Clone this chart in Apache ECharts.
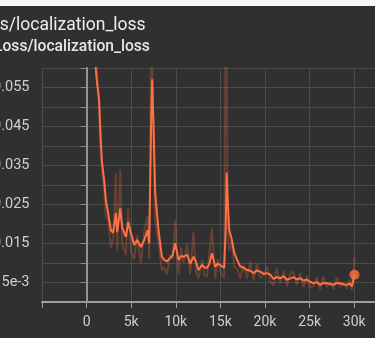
<!DOCTYPE html>
<html><head><meta charset="utf-8">
<script src="https://cdn.jsdelivr.net/npm/echarts@6/dist/echarts.min.js"></script>
<style>html,body{margin:0;padding:0;background:#303030;}#c{width:375px;height:338px;}</style>
</head><body><div id="c"></div>
<script>
var titleText = 'Loss/localization_loss';
var subtitleText = 'Loss/localization_loss';
var steps = [740,1150,1410,1520,1710,1970,2160,2420,2720,2980,3280,3430,3770,3990,4400,4660,4970,5340,5670,6090,6460,6830,7020,7240,7350,7520,7690,8060,8440,8700,9000,9370,9650,9930,10300,10600,10860,11280,11610,11980,12250,12540,12960,13200,13490,13750,14050,14420,14700,14980,15420,15590,15700,15820,15990,16290,16550,16880,17220,17600,17970,18350,18710,19100,19460,19850,20210,20600,20950,21300,21700,22100,22450,22800,23190,23550,23950,24300,24700,25050,25440,25800,26190,26550,26940,27300,27680,28050,28430,28800,29180,29500,29740,30030];
var smoothed = [0.0669,0.0567,0.0516,0.0448,0.0362,0.0312,0.0261,0.0228,0.0184,0.0177,0.0228,0.0179,0.0240,0.0192,0.0167,0.0205,0.0177,0.0146,0.0159,0.0141,0.0159,0.0184,0.0151,0.0465,0.0571,0.0439,0.0279,0.0184,0.0116,0.0108,0.0104,0.0113,0.0120,0.0151,0.0108,0.0118,0.0116,0.0121,0.0098,0.0116,0.0104,0.0082,0.0095,0.0089,0.0087,0.0097,0.0125,0.0091,0.0098,0.0095,0.0087,0.0184,0.0332,0.0261,0.0184,0.0159,0.0126,0.0108,0.0091,0.0088,0.0082,0.0080,0.0074,0.0081,0.0078,0.0072,0.0074,0.0070,0.0059,0.0064,0.0061,0.0066,0.0057,0.0060,0.0064,0.0058,0.0061,0.0055,0.0057,0.0052,0.0048,0.0051,0.0044,0.0049,0.0048,0.0046,0.0044,0.0049,0.0048,0.0045,0.0044,0.0047,0.0040,0.0070];
var raw = [0.075,0.060,0.050,0.040,0.034,0.029,0.022,0.021,0.014,0.016,0.033,0.013,0.034,0.015,0.012,0.024,0.013,0.011,0.017,0.010,0.018,0.022,0.011,0.070,0.068,0.036,0.021,0.015,0.008,0.009,0.007,0.012,0.011,0.021,0.007,0.014,0.010,0.015,0.007,0.018,0.008,0.006,0.011,0.007,0.0065,0.012,0.019,0.006,0.011,0.008,0.006,0.075,0.070,0.018,0.013,0.016,0.009,0.0085,0.006,0.0095,0.006,0.0105,0.0055,0.0098,0.0062,0.0068,0.0092,0.0052,0.0042,0.0088,0.0048,0.0079,0.0040,0.0072,0.0078,0.0043,0.0074,0.0038,0.0068,0.0036,0.0040,0.0063,0.0032,0.0066,0.0038,0.0052,0.0033,0.0064,0.0039,0.0050,0.0034,0.0058,0.0030,0.0114];
var yLabels = {'0.055':'0.055','0.045':'0.045','0.035':'0.035','0.025':'0.025','0.015':'0.015','0.005':'5e-3'};

// measure text to place the clipped header text like the cropped screenshot
var mc = document.createElement('canvas').getContext('2d');
function w(font, t){ mc.font = font; return mc.measureText(t).width; }
var tBase = w('17.5px Roboto', 's/localization_loss');
var tSize = 17.5 * 146 / tBase;
var tFont = tSize.toFixed(2) + 'px Roboto';
var tX = -w(tFont, 'Los') - 0.3;
var sBase = w('500 16px Roboto', 'oss/localization_loss');
var sSize = 16 * 147.4 / sBase;
var sFont = '500 ' + sSize.toFixed(2) + 'px Roboto';
var sX = 2.5 - w(sFont, 'L');

var chart = echarts.init(document.getElementById('c'), null, {renderer:'canvas'});
var smoothData = steps.map(function(s,i){return [s, smoothed[i]];});
var rawData = steps.map(function(s,i){return [s, raw[i]];});
var last = smoothData[smoothData.length-1];
chart.setOption({
  backgroundColor:'#303030',
  animation:false,
  graphic:[
    {type:'rect', shape:{x:0,y:0,width:375,height:6}, style:{fill:'#f7f7f7'}, z:100},
    {type:'text', x:tX, y:17, style:{text:titleText, fill:'#eeeeee', font:tFont, verticalAlign:'top', align:'left'}},
    {type:'text', x:sX, y:39, style:{text:subtitleText, fill:'#e6e6e6', font:sFont, verticalAlign:'top', align:'left'}}
  ],
  grid:{left:42, right:0, top:68, bottom:36, containLabel:false, outerBoundsMode:'none'},
  xAxis:{type:'value', min:-5000, max:32332, interval:5000,
    axisLine:{show:true, onZero:false, lineStyle:{color:'#9e9e9e', width:2}},
    axisTick:{show:true, length:6, lineStyle:{color:'#9e9e9e'}},
    axisLabel:{color:'#cfcfcf', fontSize:14, fontFamily:'Roboto', margin:13, showMaxLabel:false, hideOverlap:false,
      formatter:function(v){ if(v<0) return ''; if(v===0) return '0'; return (v/1000)+'k'; }},
    splitLine:{show:true, lineStyle:{color:'#4b4b4b', width:1}}
  },
  yAxis:{type:'value', min:0, max:0.06, interval:0.005,
    axisLine:{show:true, lineStyle:{color:'#9e9e9e', width:2}},
    axisTick:{show:true, length:6, lineStyle:{color:'#8a8a8a'}},
    axisLabel:{color:'#cfcfcf', fontSize:14.5, fontFamily:'Roboto', margin:12.5, hideOverlap:false,
      formatter:function(v){ var k=v.toFixed(3); return yLabels[k]||''; }},
    splitLine:{show:true, lineStyle:{color:'#4b4b4b', width:1}}
  },
  series:[
    {type:'line', data:rawData, showSymbol:false, symbol:'none', clip:true,
     lineStyle:{color:'rgba(255,112,67,0.25)', width:2}, z:2,
     markLine:{silent:true, symbol:'none', label:{show:false}, lineStyle:{color:'#8f8f8f', type:'solid', width:1.5},
       data:[{xAxis:0}]}},
    {type:'line', data:smoothData, showSymbol:false, symbol:'none', clip:true,
     lineStyle:{color:'#ff7043', width:2}, z:3},
    {type:'scatter', data:[last], symbol:'circle', symbolSize:10, itemStyle:{color:'#ff7043'}, z:4}
  ]
});
</script></body></html>
